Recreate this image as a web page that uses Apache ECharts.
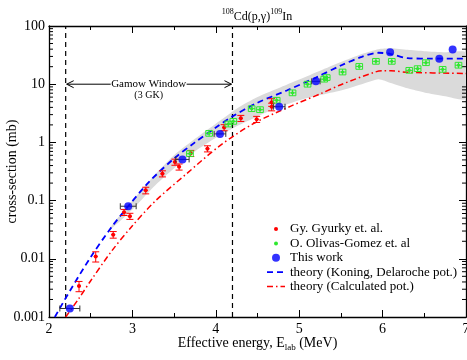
<!DOCTYPE html>
<html>
<head>
<meta charset="utf-8">
<script src="https://cdn.jsdelivr.net/npm/echarts@6/dist/echarts.min.js"></script>
<style>
html, body { margin: 0; padding: 0; background: #fff; }
#chart { width: 467px; height: 360px; }
</style>
</head>
<body>
<div id="chart"></div>
<script>
var FONT = 'Liberation Serif';
var RED = '#ff0000', GREEN = '#2ee82e', BLUE = '#0000ff', BAND = '#dadada';

// Gy. Gyurky et al.
var gyurkyE     = [2.36, 2.56, 2.77, 2.90, 2.97, 3.16, 3.36, 3.51, 3.56, 3.70, 3.90, 4.10, 4.30, 4.49, 4.67, 4.67];
var gyurkySigma = [0.0034, 0.011, 0.026, 0.063, 0.054, 0.15, 0.29, 0.46, 0.38, 0.65, 0.78, 1.8, 2.6, 2.5, 4.9, 4.1];
var gyurkyErr   = [0.2, 0.2, 0.13, 0.12, 0.12, 0.13, 0.12, 0.12, 0.12, 0.12, 0.12, 0.12, 0.12, 0.12, 0.15, 0.15];

// O. Olivas-Gomez et al.
var olivasE     = [3.69, 3.92, 4.15, 4.21, 4.43, 4.53, 4.73, 4.92, 5.10, 5.30, 5.33, 5.52, 5.72, 5.92, 6.11, 6.32, 6.42, 6.52, 6.72, 6.91];
var olivasSigma = [0.64, 1.43, 2.07, 2.3, 3.8, 3.65, 5.3, 7.1, 10.0, 12.2, 13.0, 16.2, 20.2, 24.7, 24.7, 17.3, 18.5, 23.4, 18.0, 21.2];

// This work
var thisE     = [2.25, 2.95, 3.60, 4.05, 4.76, 5.20, 6.09, 6.68, 6.84];
var thisSigma = [0.0014, 0.08, 0.51, 1.4, 4.1, 11.2, 35.5, 27.5, 39.5];
var thisEErr  = [0.12, 0.095, 0.08, 0.07, 0.07, 0.05, 0, 0, 0];

// theory (Koning, Delaroche pot.)
var koningE     = [2.07, 2.25, 2.5, 2.75, 2.95, 3.2, 3.5, 3.75, 4.0, 4.2, 4.5, 4.85, 5.2, 5.5, 5.75, 5.95, 6.1, 6.3, 6.6, 7.0];
var koningSigma = [0.001, 0.0028, 0.0107, 0.035, 0.08, 0.21, 0.53, 1.0, 1.8, 2.8, 4.8, 7.8, 13, 21, 29.5, 34.7, 33, 28, 27.5, 27.5];

// theory (Calculated pot.)
var calcE     = [2.2, 2.36, 2.5, 2.75, 3.0, 3.28, 3.65, 4.05, 4.45, 4.9, 5.25, 5.5, 5.9, 6.0, 6.1, 6.3, 7.0];
var calcSigma = [0.001, 0.0021, 0.0042, 0.0135, 0.037, 0.1, 0.29, 0.88, 2.1, 4.2, 6.8, 9.8, 16, 17, 17, 16, 15.3];

// grey uncertainty band
var bandE    = [2.75, 3.0, 3.25, 3.5, 3.75, 4.0, 4.25, 4.5, 4.75, 5.0, 5.25, 5.5, 5.75, 5.95, 6.1, 6.3, 6.5, 6.75, 7.0];
var bandHigh = [0.037, 0.1, 0.26, 0.6, 1.15, 2.1, 3.8, 6.0, 8.5, 12, 17, 24, 33, 40, 41.5, 39, 37, 35.5, 35];
var bandLow  = [0.033, 0.07, 0.17, 0.36, 0.7, 1.2, 1.9, 2.8, 4.0, 5.3, 6.5, 7.8, 10, 12.2, 10.5, 8.5, 7.2, 6.2, 5.6];

// Gamow window
var gamowWindow = [2.2, 4.2];
var gamowLevel = 10;
var gamowGap = [2.74, 3.65];

var yTickLabels = ['0.001', '0.01', '0.1', '1', '10', '100'];
var yMinor = [];
for (var k = -3; k < 2; k++) {
    for (var m = 2; m < 10; m++) {
        yMinor.push([2, m * Math.pow(10, k)]);
    }
}

function renderBand(params, api) {
    var pts = [];
    for (var i = 0; i < bandE.length; i++) pts.push(api.coord([bandE[i], bandHigh[i]]));
    for (var j = bandE.length - 1; j >= 0; j--) pts.push(api.coord([bandE[j], bandLow[j]]));
    return { type: 'polygon', shape: { points: pts, smooth: 0.2 }, style: { fill: BAND } };
}

function renderGyurky(params, api) {
    var e = api.value(0), s = api.value(1), r = api.value(2);
    var c = api.coord([e, s]);
    var hi = api.coord([e, s * (1 + r)]);
    var lo = api.coord([e, s * (1 - r)]);
    var w = 3.5;
    var st = { stroke: RED, lineWidth: 1 };
    return {
        type: 'group',
        children: [
            { type: 'line', shape: { x1: c[0], y1: hi[1], x2: c[0], y2: lo[1] }, style: st },
            { type: 'line', shape: { x1: c[0] - w, y1: hi[1], x2: c[0] + w, y2: hi[1] }, style: st },
            { type: 'line', shape: { x1: c[0] - w, y1: lo[1], x2: c[0] + w, y2: lo[1] }, style: st },
            { type: 'line', shape: { x1: c[0] - 2, y1: c[1], x2: c[0] + 2, y2: c[1] }, style: st },
            { type: 'circle', shape: { cx: c[0], cy: c[1], r: 2 }, style: { fill: RED } }
        ]
    };
}

function renderOlivas(params, api) {
    var e = api.value(0), s = api.value(1);
    var c = api.coord([e, s]);
    var a = api.coord([e - 0.04, s * 1.12]);
    var b = api.coord([e + 0.04, s / 1.12]);
    var st = { stroke: GREEN, lineWidth: 1 };
    return {
        type: 'group',
        children: [
            { type: 'rect', shape: { x: a[0], y: a[1], width: b[0] - a[0], height: b[1] - a[1] }, style: { stroke: GREEN, fill: null, lineWidth: 1 } },
            { type: 'line', shape: { x1: a[0], y1: c[1], x2: b[0], y2: c[1] }, style: st },
            { type: 'line', shape: { x1: c[0], y1: a[1], x2: c[0], y2: b[1] }, style: st },
            { type: 'circle', shape: { cx: c[0], cy: c[1], r: 1.6 }, style: { fill: GREEN } }
        ]
    };
}

function renderThisErr(params, api) {
    var e = api.value(0), s = api.value(1), d = api.value(2);
    if (!d) return null;
    var l = api.coord([e - d, s]);
    var r = api.coord([e + d, s]);
    var st = { stroke: '#333', lineWidth: 1 };
    return {
        type: 'group',
        children: [
            { type: 'line', shape: { x1: l[0], y1: l[1], x2: r[0], y2: r[1] }, style: st },
            { type: 'line', shape: { x1: l[0], y1: l[1] - 3, x2: l[0], y2: l[1] + 3 }, style: st },
            { type: 'line', shape: { x1: r[0], y1: r[1] - 3, x2: r[0], y2: r[1] + 3 }, style: st }
        ]
    };
}

function renderMinor(params, api) {
    var v = api.value(1);
    var l = api.coord([2, v]);
    var r = api.coord([7, v]);
    var st = { stroke: '#000', lineWidth: 1 };
    return {
        type: 'group',
        children: [
            { type: 'line', shape: { x1: l[0], y1: l[1], x2: l[0] + 4, y2: l[1] }, style: st },
            { type: 'line', shape: { x1: r[0], y1: r[1], x2: r[0] - 4, y2: r[1] }, style: st }
        ]
    };
}

function renderGamow(params, api) {
    var dash = { stroke: '#000', lineWidth: 1.2, lineDash: [5, 4] };
    var st = { stroke: '#000', lineWidth: 1 };
    var children = [];
    gamowWindow.forEach(function (e) {
        var b = api.coord([e, 0.001]);
        var t = api.coord([e, 100]);
        children.push({ type: 'line', shape: { x1: b[0], y1: b[1], x2: t[0], y2: t[1] }, style: dash });
    });
    var p0 = api.coord([gamowWindow[0], gamowLevel]);
    var p1 = api.coord([gamowGap[0], gamowLevel]);
    var p2 = api.coord([gamowGap[1], gamowLevel]);
    var p3 = api.coord([gamowWindow[1], gamowLevel]);
    var mid = api.coord([(gamowGap[0] + gamowGap[1]) / 2, gamowLevel]);
    children.push({ type: 'line', shape: { x1: p0[0] + 1, y1: p0[1], x2: p1[0], y2: p1[1] }, style: st });
    children.push({ type: 'line', shape: { x1: p2[0], y1: p2[1], x2: p3[0] - 1, y2: p3[1] }, style: st });
    children.push({ type: 'polyline', shape: { points: [[p0[0] + 8, p0[1] - 3.5], [p0[0] + 1, p0[1]], [p0[0] + 8, p0[1] + 3.5]] }, style: { stroke: '#000', lineWidth: 1, fill: null } });
    children.push({ type: 'polyline', shape: { points: [[p3[0] - 8, p3[1] - 3.5], [p3[0] - 1, p3[1]], [p3[0] - 8, p3[1] + 3.5]] }, style: { stroke: '#000', lineWidth: 1, fill: null } });
    children.push({ type: 'text', x: mid[0], y: mid[1], style: { text: 'Gamow Window', fontFamily: FONT, fontSize: 11, fill: '#000', align: 'center', verticalAlign: 'middle' } });
    children.push({ type: 'text', x: mid[0], y: mid[1] + 11, style: { text: '(3 GK)', fontFamily: FONT, fontSize: 10, fill: '#000', align: 'center', verticalAlign: 'middle' } });
    return { type: 'group', children: children };
}

function zip(a, b, c) {
    return a.map(function (v, i) { return c ? [v, b[i], c[i]] : [v, b[i]]; });
}

var dotIcon = 'path://M0,0M10,10M5,2.5A2.5,2.5,0,1,1,5,7.5A2.5,2.5,0,1,1,5,2.5Z';
var dashIcon = 'path://M0,0M18,8M0,3.1h6v1.8h-6zM10,3.1h6v1.8h-6z';
var dashDotIcon = 'path://M0,0M18,8M0,3.25h6v1.5h-6zM9,3.25h1.5v1.5h-1.5zM13.5,3.25h4.5v1.5h-4.5z';

var axisText = { fontFamily: FONT, fontSize: 14, color: '#000' };

var myChart = echarts.init(document.getElementById('chart'));
var option = {
    animation: false,
    backgroundColor: '#fff',
    title: {
        text: '{sup|108}Cd(p,γ){sup|109}In',
        left: 252,
        top: 3,
        textAlign: 'center',
        textStyle: {
            fontFamily: FONT, fontSize: 12, fontWeight: 'normal', color: '#000', lineHeight: 18,
            rich: {
                sup: { fontFamily: FONT, fontSize: 8, color: '#000', verticalAlign: 'top', lineHeight: 8 }
            }
        }
    },
    grid: { left: 49, right: 1, top: 26, bottom: 43, outerBoundsMode: 'none', containLabel: false },
    legend: {
        orient: 'vertical',
        left: 262,
        top: 217,
        itemWidth: 18,
        itemHeight: 8,
        itemGap: 0.4,
        textStyle: { fontFamily: FONT, fontSize: 13, color: '#000', lineHeight: 14 },
        data: [
            { name: 'Gy. Gyurky et. al.', icon: dotIcon },
            { name: 'O. Olivas-Gomez et. al', icon: dotIcon },
            { name: 'This work', icon: 'circle' },
            { name: 'theory (Koning, Delaroche pot.)', icon: dashIcon },
            { name: 'theory (Calculated pot.)', icon: dashDotIcon }
        ]
    },
    xAxis: [{
        type: 'value', min: 2, max: 7, interval: 1, position: 'bottom',
        name: 'Effective energy, E{sub|lab} (MeV)',
        nameLocation: 'middle', nameGap: 17, nameMoveOverlap: false,
        nameTextStyle: {
            fontFamily: FONT, fontSize: 14, color: '#000', lineHeight: 18,
            rich: { sub: { fontFamily: FONT, fontSize: 9, color: '#000', verticalAlign: 'bottom', lineHeight: 9 } }
        },
        axisLine: { show: true, onZero: false, lineStyle: { color: '#000', width: 1.3 } },
        axisTick: { show: true, inside: true, length: 7, lineStyle: { color: '#000' } },
        minorTick: { show: true, splitNumber: 2, length: 4, lineStyle: { color: '#000' } },
        axisLabel: Object.assign({ margin: 5 }, axisText),
        splitLine: { show: false }
    }, {
        type: 'value', min: 2, max: 7, interval: 1, position: 'top',
        axisLine: { show: true, onZero: false, lineStyle: { color: '#000', width: 1.3 } },
        axisTick: { show: true, inside: true, length: 7, lineStyle: { color: '#000' } },
        minorTick: { show: true, splitNumber: 2, length: 4, lineStyle: { color: '#000' } },
        axisLabel: { show: false },
        splitLine: { show: false }
    }],
    yAxis: [{
        type: 'log', logBase: 10, min: 0.001, max: 100, position: 'left',
        name: 'cross-section (mb)', nameLocation: 'middle', nameGap: 30, nameMoveOverlap: false,
        nameTextStyle: { fontFamily: FONT, fontSize: 14, color: '#000' },
        axisLine: { show: true, onZero: false, lineStyle: { color: '#000', width: 1.3 } },
        axisTick: { show: true, inside: true, length: 7, lineStyle: { color: '#000' } },
        axisLabel: Object.assign({
            margin: 4,
            formatter: function (v) { return yTickLabels[Math.round(Math.log10(v)) + 3]; }
        }, axisText),
        splitLine: { show: false }
    }, {
        type: 'log', logBase: 10, min: 0.001, max: 100, position: 'right',
        axisLine: { show: true, onZero: false, lineStyle: { color: '#000', width: 1.3 } },
        axisTick: { show: true, inside: true, length: 7, lineStyle: { color: '#000' } },
        axisLabel: { show: false },
        splitLine: { show: false }
    }],
    series: [
        {
            name: 'band', type: 'custom', renderItem: renderBand, data: [[2, 1]],
            encode: { x: 0, y: 1 }, clip: true, silent: true, z: 1
        },
        {
            name: 'gamow', type: 'custom', renderItem: renderGamow, data: [[gamowWindow[0], gamowLevel]],
            encode: { x: 0, y: 1 }, silent: true, z: 2
        },
        {
            name: 'minor', type: 'custom', renderItem: renderMinor, data: yMinor,
            encode: { x: 0, y: 1 }, silent: true, z: 2
        },
        {
            name: 'theory (Koning, Delaroche pot.)', type: 'line', data: zip(koningE, koningSigma),
            smooth: 0.3, showSymbol: false, symbol: 'none', clip: true, z: 3,
            itemStyle: { color: BLUE },
            lineStyle: { color: BLUE, width: 1.8, type: [6, 4] }
        },
        {
            name: 'theory (Calculated pot.)', type: 'line', data: zip(calcE, calcSigma),
            smooth: 0.3, showSymbol: false, symbol: 'none', clip: true, z: 3,
            itemStyle: { color: RED },
            lineStyle: { color: RED, width: 1.5, type: [6, 3, 1.5, 3] }
        },
        {
            name: 'Gy. Gyurky et. al.', type: 'custom', renderItem: renderGyurky,
            data: zip(gyurkyE, gyurkySigma, gyurkyErr), encode: { x: 0, y: 1 },
            itemStyle: { color: RED }, z: 4
        },
        {
            name: 'O. Olivas-Gomez et. al', type: 'custom', renderItem: renderOlivas,
            data: zip(olivasE, olivasSigma), encode: { x: 0, y: 1 },
            itemStyle: { color: GREEN }, z: 4
        },
        {
            name: 'thisErr', type: 'custom', renderItem: renderThisErr,
            data: zip(thisE, thisSigma, thisEErr), encode: { x: 0, y: 1 }, z: 5
        },
        {
            name: 'This work', type: 'scatter', data: zip(thisE, thisSigma),
            symbol: 'circle', symbolSize: 8, itemStyle: { color: BLUE }, z: 6
        }
    ]
};
myChart.setOption(option);
</script>
</body>
</html>
